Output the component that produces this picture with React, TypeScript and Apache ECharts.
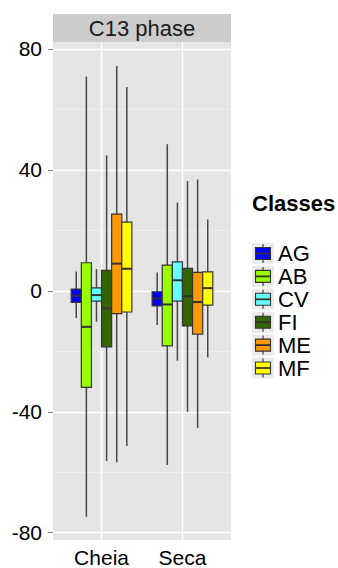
import React, { useEffect, useRef } from 'react';
import * as echarts from 'echarts';

const CATEGORIES = ['Cheia', 'Seca'];
const CLASSES = ['AG', 'AB', 'CV', 'FI', 'ME', 'MF'];
const CLASS_COLORS = ['#0000FF', '#99FF00', '#66FFFF', '#336600', '#FF9900', '#FFFF00'];
// [min, q1, median, q3, max] for Cheia, Seca
const AG = [[-9.0, -3.8, -1.6, 0.6, 6.4], [-11.3, -5.0, -2.5, -0.3, 6.1]];
const AB = [[-74.7, -31.9, -11.9, 9.3, 70.9], [-57.6, -18.2, -4.5, 8.5, 48.5]];
const CV = [[-10.2, -3.4, -1.4, 1.0, 7.2], [-23.1, -3.4, 3.5, 9.6, 29.2]];
const FI = [[-56.3, -18.5, -5.8, 6.8, 44.8], [-40.0, -11.6, -1.8, 7.4, 36.3]];
const ME = [[-56.7, -7.5, 9.0, 25.4, 74.4], [-45.3, -14.3, -3.7, 6.1, 36.8]];
const MF = [[-51.3, -7.0, 7.3, 22.7, 67.4], [-22.0, -4.7, 0.9, 6.3, 23.6]];
const CLASS_DATA = [AG, AB, CV, FI, ME, MF];
const Y_TICKS = [-80, -40, 0, 40, 80];
const Y_MINOR = [-60, -20, 20, 60];
const X_POS = [1, 2];
const STRIP_LABEL = 'C13 phase';
const LEGEND_TITLE = 'Classes';

const FONT = 'Liberation Sans, Arial, sans-serif';
const BOX_W = 0.125;
const GRID = { left: 53, right: 107, top: 42, bottom: 28 };

export default function App() {
  const ref = useRef<HTMLDivElement>(null);
  useEffect(() => {
    if (!ref.current) return;
    const chart = echarts.init(ref.current, undefined, { renderer: 'svg' });
    const n = CLASSES.length;

    const series: any[] = CLASSES.map((name, ci) => ({
      type: 'custom',
      name,
      encode: { x: 0, y: [1, 2, 3, 4, 5] },
      data: CLASS_DATA[ci].map((v, k) => [X_POS[k], ...v]),
      renderItem: (params: any, api: any) => {
        const xv = api.value(0);
        const unit = api.size([1, 0])[0];
        const w = unit * BOX_W;
        const cx = api.coord([xv, 0])[0] + (ci - (n - 1) / 2) * w;
        const y = (v: number) => api.coord([xv, v])[1];
        const yMin = y(api.value(1));
        const yQ1 = y(api.value(2));
        const yMed = y(api.value(3));
        const yQ3 = y(api.value(4));
        const yMax = y(api.value(5));
        const wStyle = { stroke: '#474747', lineWidth: 1.5 };
        return {
          type: 'group',
          children: [
            { type: 'line', shape: { x1: cx, y1: yQ3, x2: cx, y2: yMax }, style: wStyle },
            { type: 'line', shape: { x1: cx, y1: yQ1, x2: cx, y2: yMin }, style: wStyle },
            {
              type: 'rect',
              shape: { x: cx - w / 2, y: yQ3, width: w, height: yQ1 - yQ3 },
              style: { fill: CLASS_COLORS[ci], stroke: '#333333', lineWidth: 1.2 },
            },
            {
              type: 'line',
              shape: { x1: cx - w / 2, y1: yMed, x2: cx + w / 2, y2: yMed },
              style: { stroke: '#333333', lineWidth: 2 },
            },
          ],
        };
      },
    }));

    const legendEls: any[] = [
      {
        type: 'text',
        x: 252,
        y: 203,
        style: { text: LEGEND_TITLE, font: `bold 22px ${FONT}`, fill: '#000', verticalAlign: 'middle' },
      },
    ];
    CLASSES.forEach((name, i) => {
      const top = 243 + i * 22.9;
      const cy = top + 10.5;
      legendEls.push(
        { type: 'rect', shape: { x: 252, y: top, width: 22, height: 21 }, style: { fill: '#EBEBEB' } },
        { type: 'line', shape: { x1: 263, y1: top + 1, x2: 263, y2: top + 20 }, style: { stroke: '#4d4d4d', lineWidth: 1.3 } },
        {
          type: 'rect',
          shape: { x: 255.5, y: cy - 6, width: 15, height: 12 },
          style: { fill: CLASS_COLORS[i], stroke: '#333333', lineWidth: 1.1 },
        },
        { type: 'line', shape: { x1: 255.5, y1: cy, x2: 270.5, y2: cy }, style: { stroke: '#333333', lineWidth: 1.8 } },
        {
          type: 'text',
          x: 278,
          y: cy,
          style: { text: name, font: `22px ${FONT}`, fill: '#000', verticalAlign: 'middle' },
        }
      );
    });

    const option: any = {
      animation: false,
      grid: { ...GRID, show: true, backgroundColor: '#E5E5E5', borderWidth: 0 },
      xAxis: {
        type: 'value',
        min: 0.4,
        max: 2.6,
        axisLine: { show: false },
        axisTick: { show: true, length: 5, customValues: X_POS, lineStyle: { color: '#7f7f7f', width: 1 } },
        axisLabel: {
          customValues: X_POS,
          margin: 7,
          formatter: (v: number) => CATEGORIES[Math.round(v) - 1] ?? '',
          color: '#000',
          fontSize: 21,
          fontFamily: FONT,
        },
        splitLine: { show: true, lineStyle: { color: '#FFFFFF', width: 1.4 } },
      },
      yAxis: [
        {
          type: 'value',
          min: -82.4,
          max: 82.3,
          axisLine: { show: false },
          axisTick: { show: true, length: 5, customValues: Y_TICKS, lineStyle: { color: '#7f7f7f', width: 1 } },
          axisLabel: {
            customValues: Y_TICKS,
            margin: 11,
            color: '#000',
            fontSize: 21,
            fontFamily: FONT,
          },
          splitLine: { show: true, lineStyle: { color: '#FFFFFF', width: 1.4 } },
        },
        {
          type: 'value',
          min: -82.4,
          max: 82.3,
          axisLine: { show: false },
          axisTick: { show: false, customValues: Y_MINOR },
          axisLabel: { show: false, customValues: Y_MINOR },
          splitLine: { show: true, lineStyle: { color: '#F2F2F2', width: 0.7 } },
        },
      ],
      graphic: [
        {
          type: 'rect',
          shape: { x: 53, y: 14, width: 178, height: 28 },
          style: { fill: '#CCCCCC' },
        },
        {
          type: 'text',
          x: 142,
          y: 28.5,
          style: {
            text: STRIP_LABEL,
            font: `22px ${FONT}`,
            fill: '#1a1a1a',
            align: 'center',
            verticalAlign: 'middle',
          },
        },
        ...legendEls,
      ],
      series,
    };
    chart.setOption(option);
    return () => chart.dispose();
  }, []);

  return (
    <div
      ref={ref}
      style={{ position: 'fixed', left: 0, top: 0, width: 338, height: 568, background: '#fff' }}
    />
  );
}
